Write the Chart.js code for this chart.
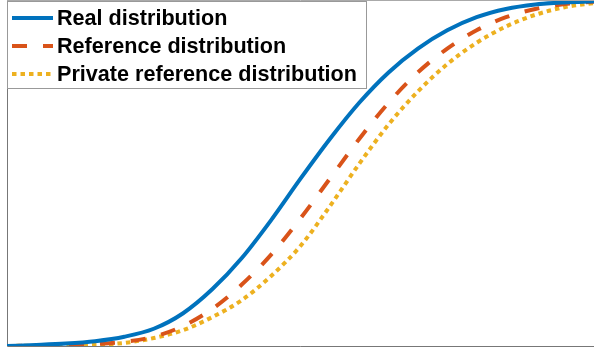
<!DOCTYPE html>
<html>
<head>
    <title>Distribution CDFs</title>
    <script src="https://cdn.jsdelivr.net/npm/chart.js@4/dist/chart.umd.min.js"></script>
    <style>
        html, body {
            margin: 0;
            padding: 0;
            background: #fff;
        }
        canvas {
            display: block;
        }
    </style>
</head>
<body>
    <canvas id="cdfChart" width="594" height="352"></canvas>

    <script>
        // values (x is 0..100 across the plot)
        const xs = [0, 5, 10, 15, 20, 25, 30, 35, 40, 45, 50, 55, 60, 65, 70, 75, 80, 85, 90, 95, 100];
        const realDist = [0, 0.003, 0.007, 0.014, 0.027, 0.050, 0.095, 0.165, 0.255, 0.365, 0.485,
                          0.600, 0.705, 0.793, 0.862, 0.915, 0.953, 0.977, 0.990, 0.996, 0.999];
        const refDist = [0, 0.001, 0.003, 0.006, 0.012, 0.027, 0.058, 0.108, 0.178, 0.265, 0.370,
                         0.485, 0.600, 0.705, 0.793, 0.862, 0.915, 0.953, 0.977, 0.991, 0.998];
        const privDist = [0, 0.001, 0.001, 0.003, 0.009, 0.023, 0.046, 0.084, 0.133, 0.203, 0.290,
                          0.405, 0.528, 0.642, 0.738, 0.817, 0.879, 0.926, 0.960, 0.982, 0.994];
        const labels = ['Real distribution', 'Reference distribution', 'Private reference distribution'];

        const toPts = arr => arr.map((v, i) => ({ x: xs[i], y: v }));

        // axes box + legend box drawn by hand (matlab style)
        const boxPlugin = {
            id: 'boxPlugin',
            beforeDatasetsDraw(chart) {
                const { ctx, chartArea: a } = chart;
                ctx.save();
                ctx.lineWidth = 1;
                ctx.strokeStyle = '#777';
                ctx.beginPath();
                ctx.moveTo(a.left + 0.5, a.top);
                ctx.lineTo(a.left + 0.5, a.bottom + 0.5);
                ctx.lineTo(a.right, a.bottom + 0.5);
                ctx.stroke();
                ctx.strokeStyle = '#aaa';
                ctx.beginPath();
                ctx.moveTo(a.left, 0.5);
                ctx.lineTo(a.right, 0.5);
                ctx.stroke();
                ctx.restore();
            },
            afterDraw(chart) {
                const ctx = chart.ctx;
                ctx.save();
                ctx.fillStyle = '#fff';
                ctx.fillRect(7, 1, 359, 87);
                ctx.strokeStyle = '#999';
                ctx.lineWidth = 1;
                ctx.strokeRect(7.5, 1.5, 359, 87);

                ctx.font = 'bold 21.6px "Liberation Sans", Arial, sans-serif';
                ctx.textBaseline = 'middle';
                chart.data.datasets.forEach((ds, i) => {
                    const y = 18 + i * 28;
                    ctx.strokeStyle = ds.borderColor;
                    ctx.lineWidth = ds.borderWidth;
                    ctx.setLineDash(ds.borderDash || []);
                    ctx.beginPath();
                    ctx.moveTo(12, y);
                    ctx.lineTo(53, y);
                    ctx.stroke();
                    ctx.setLineDash([]);
                    ctx.fillStyle = '#000';
                    ctx.fillText(ds.label, 57, y + 1);
                });
                ctx.restore();
            }
        };

        const ctx = document.getElementById('cdfChart').getContext('2d');
        const cdfChart = new Chart(ctx, {
            type: 'line',
            data: {
                datasets: [
                    { label: labels[0], data: toPts(realDist), borderColor: '#0072BD', borderWidth: 4 },
                    { label: labels[1], data: toPts(refDist), borderColor: '#D95319', borderWidth: 4, borderDash: [15, 16] },
                    { label: labels[2], data: toPts(privDist), borderColor: '#EDB120', borderWidth: 4, borderDash: [4.5, 4] }
                ]
            },
            options: {
                responsive: false,
                animation: false,
                layout: { padding: { left: 7, top: 1, right: 0, bottom: 6 } },
                elements: {
                    point: { radius: 0 },
                    line: { cubicInterpolationMode: 'monotone', fill: false, borderCapStyle: 'butt' }
                },
                plugins: {
                    legend: { display: false },
                    tooltip: { enabled: false }
                },
                scales: {
                    x: { type: 'linear', min: 0, max: 100, display: false },
                    y: { min: 0, max: 1, display: false }
                }
            },
            plugins: [boxPlugin]
        });
    </script>
</body>
</html>
